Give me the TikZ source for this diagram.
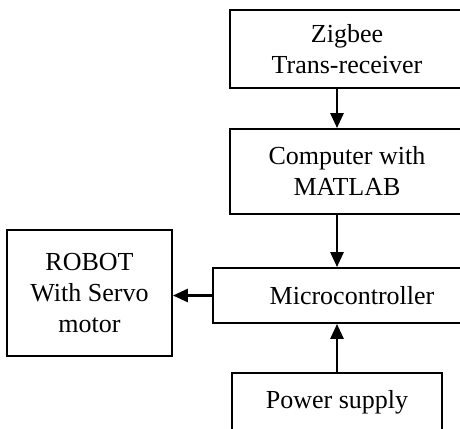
\documentclass[tikz,border=0pt]{standalone}
\usepackage{fontspec}
\setmainfont{Liberation Serif}
\usetikzlibrary{arrows.meta,positioning}

\begin{document}
\begin{tikzpicture}[
  x=1pt,y=-1pt,
  >={Triangle[length=15pt,width=13pt]},
  blk/.style={draw,line width=1.8pt,align=center,inner sep=0pt,
              font=\fontsize{26}{31}\selectfont},
  flow/.style={->,line width=2.7pt}
]
\useasboundingbox (0,0) rectangle (460,428);
\node[blk,minimum width=234pt,minimum height=78pt]  (zig)   at (347,49)    {Zigbee\\Trans-receiver};
\node[blk,minimum width=234pt,minimum height=85pt]  (comp)  at (347,171.5) {Computer with\\MATLAB};
\node[blk,minimum width=278pt,minimum height=55pt]  (mcu)   at (352,295.5) {Microcontroller};
\node[blk,minimum width=210pt,minimum height=58pt]  (pwr)   at (337,402)   {Power supply};
\node[blk,minimum width=165pt,minimum height=126pt] (robot) at (89.5,293)  {ROBOT\\With Servo\\motor};

\draw[flow] (zig.south -| pwr) -- (comp.north -| pwr);
\draw[flow] (comp.south -| pwr) -- (mcu.north -| pwr);
\draw[flow] (pwr.north) -- (mcu.south -| pwr);
\draw[flow] (mcu.west) -- (mcu.west -| robot.east);
\end{tikzpicture}
\end{document}
